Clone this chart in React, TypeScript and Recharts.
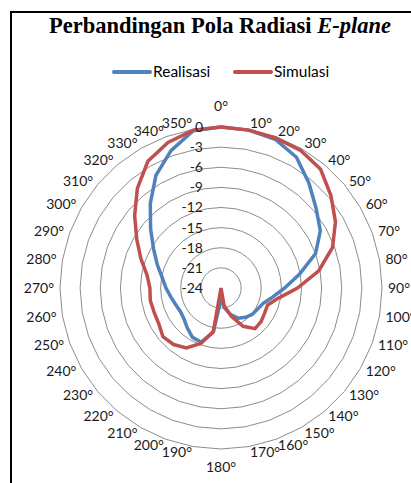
import React from "react"
import { RadarChart, Radar, PolarGrid, PolarAngleAxis, PolarRadiusAxis } from "recharts"

// sudut pengukuran (derajat)
const angles = [0, 10, 20, 30, 40, 50, 60, 70, 80, 90, 100, 110, 120, 130, 140, 150, 160, 170,
  180, 190, 200, 210, 220, 230, 240, 250, 260, 270, 280, 290, 300, 310, 320, 330, 340, 350]

const realisasi = [0, -0.1, -0.4, -1.5, -3.6, -5.5, -6.9, -9, -12.1, -14.5, -16.2, -17.3, -17.7, -17.9,
  -18.3, -18.8, -19.8, -21, -22.3, -17.3, -15.4, -15.5, -16.2, -16.8, -17, -16.8, -16.4, -15.8, -15.1,
  -13.9, -12.4, -10.3, -7.6, -4.6, -2.2, -0.2]

const simulasi = [0, -0.1, -0.2, -0.3, -0.9, -2.6, -4.3, -6.3, -9.2, -12.6, -15.3, -16.6, -16.5, -16.2,
  -16.1, -17.4, -19.5, -21.3, -24, -17.4, -15.2, -13.7, -13, -12.7, -13.3, -13.4, -13.3, -13.4, -12.8,
  -11.3, -9.5, -7.2, -4.6, -2.2, -0.9, -0.1]

const radiusTicks = [-24, -21, -18, -15, -12, -9, -6, -3, 0]

const data = angles.map((a, i) => ({
  angle: a + "°",
  realisasi: realisasi[i],
  simulasi: simulasi[i],
}))

const CX = 221
const CY = 288
const R = 161
const FONT = "Lato, 'Open Sans', sans-serif"

const AngleTick = ({ payload }: any) => {
  const rad = (payload.coordinate * Math.PI) / 180
  const c = Math.cos(rad)
  const s = Math.sin(rad)
  let x = CX + (R + 6) * c
  let y = CY - (R + 6) * s
  let anchor: "start" | "end" | "middle" = c > 0 ? "start" : "end"
  if (Math.abs(c) < 0.05) {
    anchor = "middle"
    x = CX
    y = s > 0 ? CY - (R + 21) : CY + (R + 18)
  }
  return (
    <text x={x} y={y} dy="0.35em" textAnchor={anchor} fontSize={14} fontFamily={FONT} fill="#1a1a1a">
      {payload.value}
    </text>
  )
}

const RadiusTick = ({ x, y, payload }: any) => (
  <text x={x - 18} y={y} dy="0.35em" textAnchor="end" fontSize={14} fontFamily={FONT} fill="#1a1a1a">
    {payload.value}
  </text>
)

export default function App() {
  return (
    <div style={{ position: "absolute", left: 0, top: 0, width: 411, height: 483, background: "#fff", overflow: "hidden" }}>
      <div
        style={{
          position: "absolute",
          left: 10,
          top: 11,
          width: 420,
          height: 490,
          borderLeft: "2px solid #000",
          borderTop: "2px solid #000",
        }}
      />
      <div
        style={{
          position: "absolute",
          left: 0,
          width: 440,
          top: 13,
          textAlign: "center",
          fontFamily: "'Liberation Serif', serif",
          fontWeight: "bold",
          fontSize: 22.5,
        }}
      >
        Perbandingan Pola Radiasi <i>E-plane</i>
      </div>
      <div style={{ position: "absolute", left: 112, top: 70, width: 40, height: 4, background: "#4F81BD", borderRadius: 2 }} />
      <div style={{ position: "absolute", left: 153, top: 62, fontFamily: FONT, fontSize: 15.5 }}>Realisasi</div>
      <div style={{ position: "absolute", left: 233, top: 70, width: 40, height: 4, background: "#C0504D", borderRadius: 2 }} />
      <div style={{ position: "absolute", left: 274, top: 62, fontFamily: FONT, fontSize: 15.5 }}>Simulasi</div>
      <RadarChart
        width={411}
        height={483}
        data={data}
        cx={CX}
        cy={CY}
        outerRadius={R}
        startAngle={90}
        endAngle={-270}
        style={{ position: "absolute", left: 0, top: 0 }}
      >
        <PolarGrid gridType="polygon" radialLines={false} stroke="#8c8c8c" strokeWidth={1} />
        <PolarAngleAxis dataKey="angle" tick={<AngleTick />} tickLine={false} axisLine={false} />
        <PolarRadiusAxis
          angle={90}
          domain={[-24, 0]}
          ticks={radiusTicks}
          tick={<RadiusTick />}
          axisLine={false}
          tickLine={false}
          orientation="left"
        />
        <Radar
          dataKey="realisasi"
          stroke="#4F81BD"
          strokeWidth={3.5}
          fill="none"
          fillOpacity={0}
          dot={false}
          isAnimationActive={false}
        />
        <Radar
          dataKey="simulasi"
          stroke="#C0504D"
          strokeWidth={3.5}
          fill="none"
          fillOpacity={0}
          dot={false}
          isAnimationActive={false}
        />
      </RadarChart>
    </div>
  )
}
